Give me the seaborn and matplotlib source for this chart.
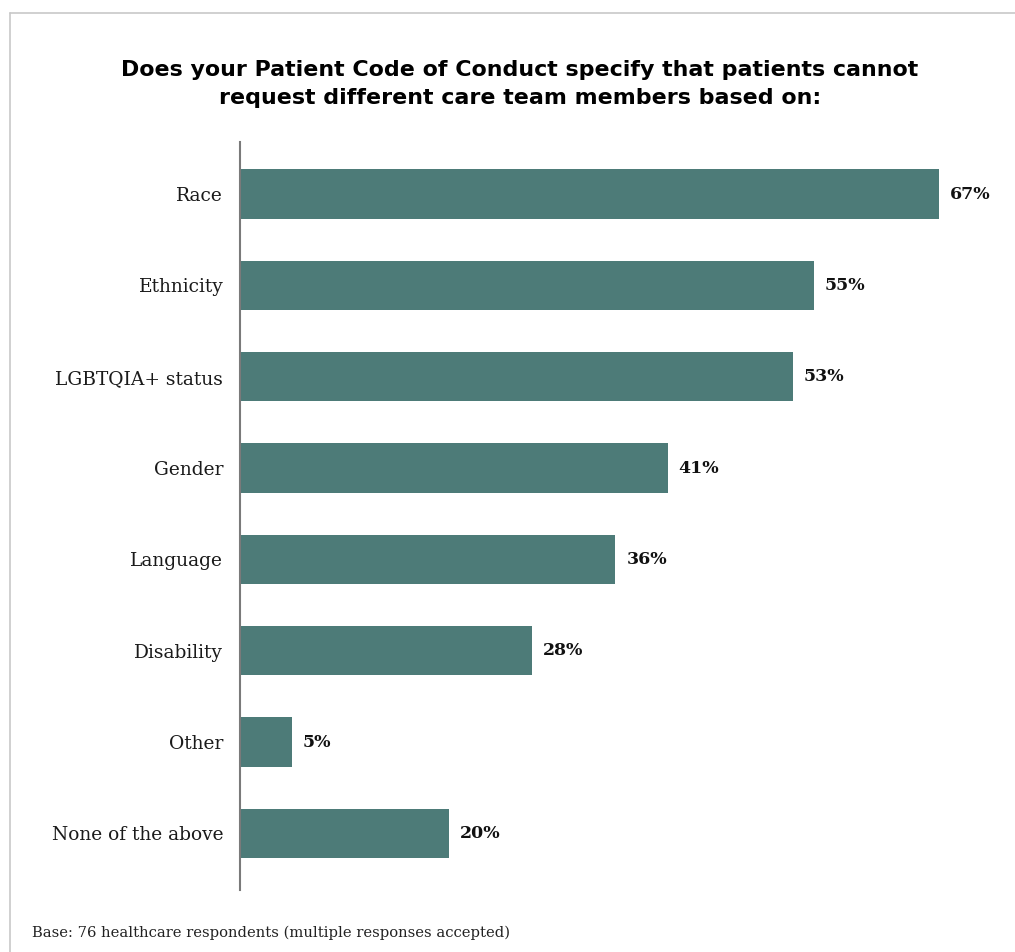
import matplotlib
matplotlib.use("Agg")
import matplotlib.pyplot as plt
import seaborn as sns
import pandas as pd
from matplotlib.lines import Line2D

categories = ["Race", "Ethnicity", "LGBTQIA+ status", "Gender", "Language",
              "Disability", "Other", "None of the above"]
values = [67, 55, 53, 41, 36, 28, 5, 20]
title = ("Does your Patient Code of Conduct specify that patients cannot\n"
         "request different care team members based on:")
footnote = "Base: 76 healthcare respondents (multiple responses accepted)"

df = pd.DataFrame({"category": categories, "value": values})

sns.set_theme(style="white")
plt.rcParams["font.family"] = ["DejaVu Serif"]

W, H = 1015, 952
fig = plt.figure(figsize=(W / 100, H / 100), dpi=100)
ax_left, ax_right = 240 / W, 1000 / W
ax_top, ax_bot = 1 - 142 / H, 1 - 890 / H
ax = fig.add_axes([ax_left, ax_bot, ax_right - ax_left, ax_top - ax_bot])

bar_color = "#4d7b78"
sns.barplot(data=df, x="value", y="category", orient="h", color=bar_color,
            width=0.54, saturation=1, ax=ax, edgecolor="none")

ax.set_xlim(0, 760 / 10.43)
ax.set_ylim(7.62, -0.57)
ax.set_xlabel("")
ax.set_ylabel("")
ax.set_xticks([])
for s in ["top", "right", "bottom"]:
    ax.spines[s].set_visible(False)
ax.spines["left"].set_color("#7a7a7a")
ax.spines["left"].set_linewidth(1.5)
ax.tick_params(axis="y", length=0, pad=12, labelsize=13.4, labelcolor="#1a1a1a")

for i, v in enumerate(values):
    ax.text(v + 1.05, i, f"{v}%", va="center", ha="left", fontsize=12.5,
            fontweight="bold", color="#111111")

fig.text(520 / W, 1 - 84 / H, title, ha="center", va="center",
         fontsize=15.9, fontweight="bold", family=["DejaVu Sans"],
         color="#000000", linespacing=1.5)

fig.text(32 / W, 1 - 933 / H, footnote, ha="left", va="center",
         fontsize=10.6, color="#222222")

# thin frame lines (top and left)
fig.add_artist(Line2D([10 / W, 1], [1 - 13 / H, 1 - 13 / H], transform=fig.transFigure,
                      color="#c8c8c8", linewidth=1.2))
fig.add_artist(Line2D([10 / W, 10 / W], [0, 1 - 13 / H], transform=fig.transFigure,
                      color="#c8c8c8", linewidth=1.2))

fig.savefig("out.png", dpi=100, facecolor="white")
